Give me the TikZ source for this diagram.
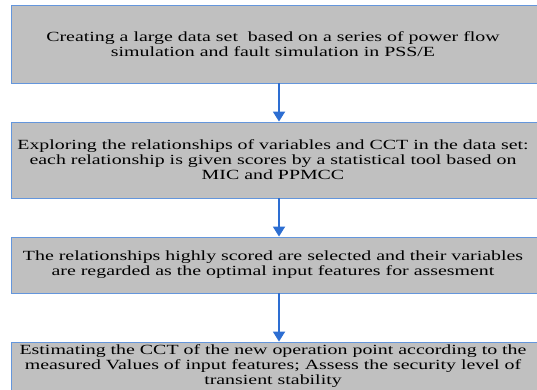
\documentclass[tikz,border=0pt]{standalone}
\usepackage{fontspec}
\setmainfont{Liberation Serif}[FakeStretch=1.42]
\usepackage{tikz}
\usetikzlibrary{positioning}
\usetikzlibrary{arrows.meta}
\usepackage{xcolor}

\definecolor{boxgray}{RGB}{192,192,192}
\definecolor{boxline}{RGB}{100,150,220}
\definecolor{arrowblue}{RGB}{45,110,210}

\tikzset{
stagebox/.style={draw=boxline, fill=boxgray, line width=0.9pt, minimum width=536pt, inner sep=0pt},
stagetext/.style={align=center, inner sep=0pt, font=\fontsize{14}{15}\selectfont},
flowarrow/.style={arrowblue, line width=1.8pt, -{Triangle[width=12pt,length=10pt]}}
}

\begin{document}
\begin{tikzpicture}[x=1pt, y=-1pt]
\useasboundingbox (0,0) rectangle (537,389);
\clip (0,0) rectangle (537,389);

%boxes
\node[stagebox, minimum height=78pt] (create) at (279,44) {};
\node[stagebox, minimum height=76pt] (explore) at (279,160) {};
\node[stagebox, minimum height=56pt] (select) at (279,265) {};
\node[stagebox, minimum height=48pt] (estimate) at (279,366) {};

%texts, a little left of the box centre
\node[stagetext] (createtext) at ([xshift=-6pt]create.center)
{Creating a large data set\ \ based on a series of power flow\\simulation and fault simulation in PSS/E};

\node[stagetext] (exploretext) at ([xshift=-6pt]explore.center)
{Exploring the relationships of variables and CCT in the data set:\\each relationship is given scores by a statistical tool based on\\MIC and PPMCC};

\node[stagetext] (selecttext) at ([xshift=-6pt]select.center)
{The relationships highly scored are selected and their variables\\are regarded as the optimal input features for assesment};

\node[stagetext] (estimatetext) at ([xshift=-6pt]estimate.center)
{Estimating the CCT of the new operation point according to the\\measured Values of input features; Assess the security level of\\transient stability};

%arrows
\draw[flowarrow] (create) -- (explore);
\draw[flowarrow] (explore) -- (select);
\draw[flowarrow] (select) -- (estimate);

\end{tikzpicture}
\end{document}
